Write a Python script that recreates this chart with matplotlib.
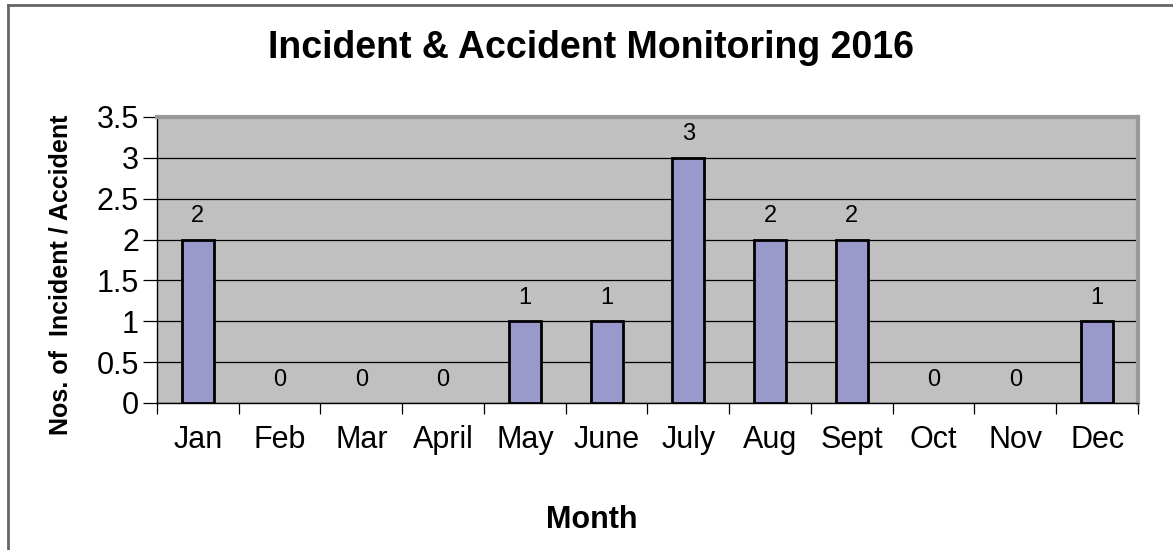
import matplotlib
matplotlib.use("Agg")
import matplotlib.pyplot as plt
import numpy as np
from matplotlib.lines import Line2D

months = ["Jan", "Feb", "Mar", "April", "May", "June", "July", "Aug", "Sept", "Oct", "Nov", "Dec"]
counts = [2, 0, 0, 0, 1, 1, 3, 2, 2, 0, 0, 1]
yticks = [0, 0.5, 1, 1.5, 2, 2.5, 3, 3.5]
ytick_labels = ["0", "0.5", "1", "1.5", "2", "2.5", "3", "3.5"]

plt.rcParams['font.family'] = ['Liberation Sans', 'DejaVu Sans']

fig = plt.figure(figsize=(11.73, 5.5), dpi=100)
ax = fig.add_axes([157/1173, 1-403/550, (1138-157)/1173, (403-117)/550])
ax.set_facecolor('#C0C0C0')

x = np.arange(len(months))
ax.set_axisbelow(True)
ax.yaxis.grid(True, color='black', linewidth=0.9)
edge_widths = [2 if v > 0 else 0 for v in counts]
ax.bar(x, counts, width=0.39, color='#9999CC', edgecolor='black', linewidth=edge_widths, zorder=3)
for xi, v in zip(x, counts):
    ax.annotate(str(v), (xi, v), xytext=(0, 9), textcoords='offset points',
                ha='center', va='bottom', fontsize=17)

ax.set_xlim(-0.5, len(months) - 0.5)
ax.set_ylim(0, 3.5)
ax.set_yticks(yticks)
ax.set_yticklabels(ytick_labels, fontsize=22)
ax.set_xticks(x)
ax.set_xticklabels(months, fontsize=22)
ax.set_xticks(np.arange(-0.5, len(months)), minor=True)
ax.tick_params(axis='x', which='major', length=0, pad=16)
ax.tick_params(axis='x', which='minor', length=8, width=0.9, direction='out')
ax.tick_params(axis='y', length=10, width=0.9, direction='out', pad=3)

for s in ['left', 'bottom']:
    ax.spines[s].set_color('black')
    ax.spines[s].set_linewidth(1.0)
for s in ['top', 'right']:
    ax.spines[s].set_color('#999999')
    ax.spines[s].set_linewidth(3)

fig.text(61/1173, 1-275/550, "Nos. of  Incident / Accident", rotation=90, ha='center', va='center',
         fontsize=18, fontweight='bold')
fig.text(592/1173, 1-520/550, "Month", ha='center', va='center', fontsize=22, fontweight='bold')
fig.text(591/1173, 1-48/550, "Incident & Accident Monitoring 2016", ha='center', va='center',
         fontsize=27, fontweight='bold')

# outer chart border
fig.add_artist(Line2D([8/1173, 8/1173], [0, 1-5/550], transform=fig.transFigure, color='#666666', linewidth=2))
fig.add_artist(Line2D([8/1173, 1], [1-5/550, 1-5/550], transform=fig.transFigure, color='#666666', linewidth=2))

fig.savefig("out.png", dpi=100)
